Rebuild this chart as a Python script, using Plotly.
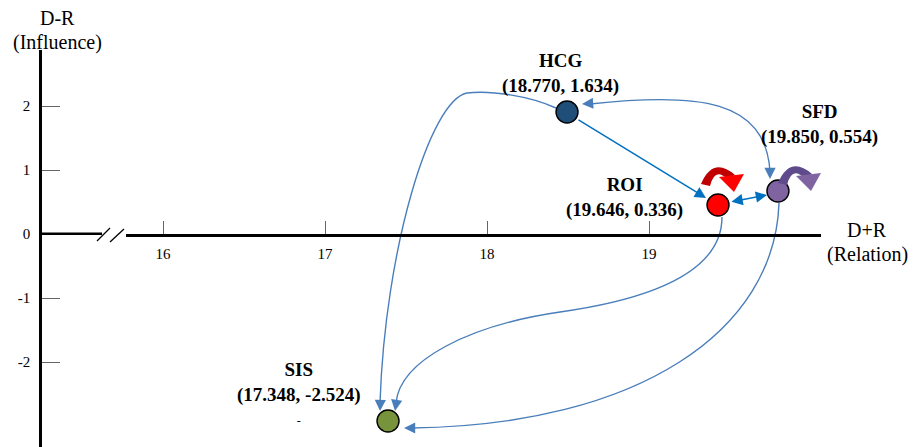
import plotly.graph_objects as go

# ---------------- data ----------------
factors = ["HCG", "ROI", "SFD", "SIS"]
d_plus_r = [18.770, 19.646, 19.850, 17.348]      # Relation (D+R)
d_minus_r = [1.634, 0.336, 0.554, -2.524]        # Influence (D-R)
# node positions as drawn in the (schematic) diagram
node_x = [18.494, 19.426, 19.796, 17.389]
node_y = [1.906, 0.453, 0.672, -2.922]
node_colors = ["#1F4E79", "#FF0000", "#8064A2", "#77933C"]
x_ticks = [16, 17, 18, 19]
y_ticks = [2, 1, 0, -1, -2]

# ---------------- geometry helpers ----------------
OFF = 8                      # page body margin of the browser
W, H = 919 - OFF, 447 - OFF
TOP = 50                     # reference px of the top of the plotting area
X_REF_PX, X_REF_V, X_SCALE = 163.0, 16.0, 162.0   # ref px of value 16, px per unit
Y_REF_PX, Y_SCALE = 234.0, 64.0                   # ref px of value 0, px per unit


def dx(px):
    return X_REF_V + (px - X_REF_PX) / X_SCALE


def dy(py):
    return (Y_REF_PX - py) / Y_SCALE


def pxp(px):
    return (px - OFF) / W


def pyp(py):
    return (447 - py) / (447 - TOP)


def P(px, py):
    return f"{dx(px):.4f},{dy(py):.4f}"


def PP(px, py):
    return f"{pxp(px):.5f},{pyp(py):.5f}"


SERIF = "Liberation Serif"
CURVE = "#4A7EBB"
STRAIGHT = "#0070C0"

fig = go.Figure()

# nodes
fig.add_trace(go.Scatter(
    x=node_x, y=node_y, mode="markers",
    marker=dict(size=22, color=node_colors, line=dict(color="black", width=1.4)),
    hoverinfo="skip", showlegend=False, cliponaxis=False,
))

shapes = []
# curved connectors (drawn below the nodes)
curve_paths = [
    # HCG -> SIS
    f"M{P(556,108)} C{P(530,96)} {P(490,90)} {P(467,93)} C{P(430,100)} {P(385,250)} {P(380,403)}",
    # ROI -> SIS
    f"M{P(722,217)} C{P(722,260)} {P(680,295)} {P(560,312)} C{P(470,325)} {P(400,360)} {P(396,403)}",
    # SFD -> SIS
    f"M{P(779,203)} C{P(775,330)} {P(640,425)} {P(412,428)}",
    # HCG <-> SFD
    f"M{P(590,104)} C{P(700,92)} {P(765,100)} {P(770,171)}",
]
for p in curve_paths:
    shapes.append(dict(type="path", path=p, xref="x", yref="y", layer="below",
                       line=dict(color=CURVE, width=1.4)))

# self-influence block arrows (red above ROI, purple above SFD)
def block_arrow(ox, oy, band_col, head_col):
    band = (f"M{PP(701+ox,184+oy)} Q{PP(713+ox,156+oy)} {PP(735+ox,175+oy)} "
            f"L{PP(727+ox,179+oy)} Q{PP(715+ox,167+oy)} {PP(710+ox,186+oy)} Z")
    head = f"M{PP(719+ox,177+oy)} L{PP(744+ox,174+oy)} L{PP(734+ox,192+oy)} Z"
    return [
        dict(type="path", path=band, xref="paper", yref="paper", layer="above",
             fillcolor=band_col, line=dict(width=0)),
        dict(type="path", path=head, xref="paper", yref="paper", layer="above",
             fillcolor=head_col, line=dict(width=0)),
    ]

shapes += block_arrow(0, 0, "#C00000", "#FF0000")
shapes += block_arrow(77, -1, "#5F4B8B", "#8064A2")

# left part of the horizontal axis and the axis break
shapes.append(dict(type="line", xref="paper", yref="paper",
                   x0=pxp(40), x1=pxp(102), y0=pyp(233.7), y1=pyp(233.7),
                   line=dict(color="black", width=2.5)))
for (a, b, c, d) in [(97, 241, 110, 228), (110, 242, 124, 229)]:
    shapes.append(dict(type="line", xref="paper", yref="paper",
                       x0=pxp(a), y0=pyp(b), x1=pxp(c), y1=pyp(d),
                       line=dict(color="black", width=1.3)))

annotations = []
# arrowheads at curve ends: (tip, tail) in px
heads = [
    ((380, 411), (380.3, 401)),
    ((395, 411), (396.5, 401)),
    ((404, 428), (414, 428)),
    ((582, 104), (592, 103.3)),
    ((770, 179), (770, 169)),
]
for (tx, ty), (sx, sy) in heads:
    annotations.append(dict(x=dx(tx), y=dy(ty), ax=dx(sx), ay=dy(sy),
                            xref="x", yref="y", axref="x", ayref="y", text="",
                            showarrow=True, arrowhead=2, arrowsize=1.6,
                            arrowwidth=1.4, arrowcolor=CURVE, standoff=0))
# straight arrows
annotations.append(dict(x=dx(706), y=dy(198), ax=dx(577), ay=dy(119),
                        xref="x", yref="y", axref="x", ayref="y", text="",
                        showarrow=True, arrowhead=2, arrowsize=1.5,
                        arrowwidth=1.5, arrowcolor=STRAIGHT, standoff=0))
annotations.append(dict(x=dx(767), y=dy(195), ax=dx(730), ay=dy(202),
                        xref="x", yref="y", axref="x", ayref="y", text="",
                        showarrow=True, arrowhead=2, startarrowhead=2,
                        arrowside="end+start", arrowsize=1.5, startarrowsize=1.5,
                        arrowwidth=1.5, arrowcolor=STRAIGHT, standoff=0, startstandoff=0))

# node labels
label_shift = {"HCG": (-7, 39), "ROI": (-94, 8), "SFD": (42, 66), "SIS": (-90, 28)}
for name, xv, yv, nx, ny in zip(factors, d_plus_r, d_minus_r, node_x, node_y):
    sx, sy = label_shift[name]
    text = f"<b>{name}</b><br><b>({xv:.3f}, {yv:.3f})</b>"
    if name == "SIS":
        text += "<br><span style='font-size:12px'>-</span>"
    annotations.append(dict(
        x=nx, y=ny, xref="x", yref="y", xshift=sx, yshift=sy, showarrow=False,
        text=text, font=dict(family=SERIF, size=19, color="black"),
        xanchor="center", yanchor="middle", align="center"))

# axis titles
for txt, px, py in [("D-R", 57, 18), ("(Influence)", 57, 42),
                    ("D+R", 867, 230), ("(Relation)", 867, 255)]:
    annotations.append(dict(x=pxp(px), y=pyp(py), xref="paper", yref="paper",
                            showarrow=False, text=txt,
                            font=dict(family=SERIF, size=20, color="black"),
                            xanchor="center", yanchor="middle"))

fig.update_layout(
    width=W, height=H,
    margin=dict(l=0, r=0, t=TOP - OFF, b=0, pad=0),
    plot_bgcolor="white", paper_bgcolor="white",
    showlegend=False,
    shapes=shapes, annotations=annotations,
    xaxis=dict(
        domain=[pxp(126), pxp(821)], range=[dx(126), dx(821)],
        anchor="free", position=pyp(235),
        showline=True, linecolor="black", linewidth=2.5,
        showgrid=False, zeroline=False,
        tickvals=x_ticks, ticktext=[str(t) for t in x_ticks],
        ticks="inside", ticklen=13, tickwidth=1, tickcolor="#666",
        tickfont=dict(family=SERIF, size=15, color="black"),
        ticklabelstandoff=4,
    ),
    yaxis=dict(
        domain=[0, 1], range=[dy(447), dy(TOP)],
        anchor="free", position=pxp(40),
        showline=True, linecolor="black", linewidth=2.5,
        showgrid=False, zeroline=False,
        tickvals=y_ticks, ticktext=[str(t) for t in y_ticks],
        ticks="inside", ticklen=18, tickwidth=1, tickcolor="#666",
        tickfont=dict(family=SERIF, size=15, color="black"),
        ticklabelstandoff=6,
    ),
)

fig.write_html("out.html")
